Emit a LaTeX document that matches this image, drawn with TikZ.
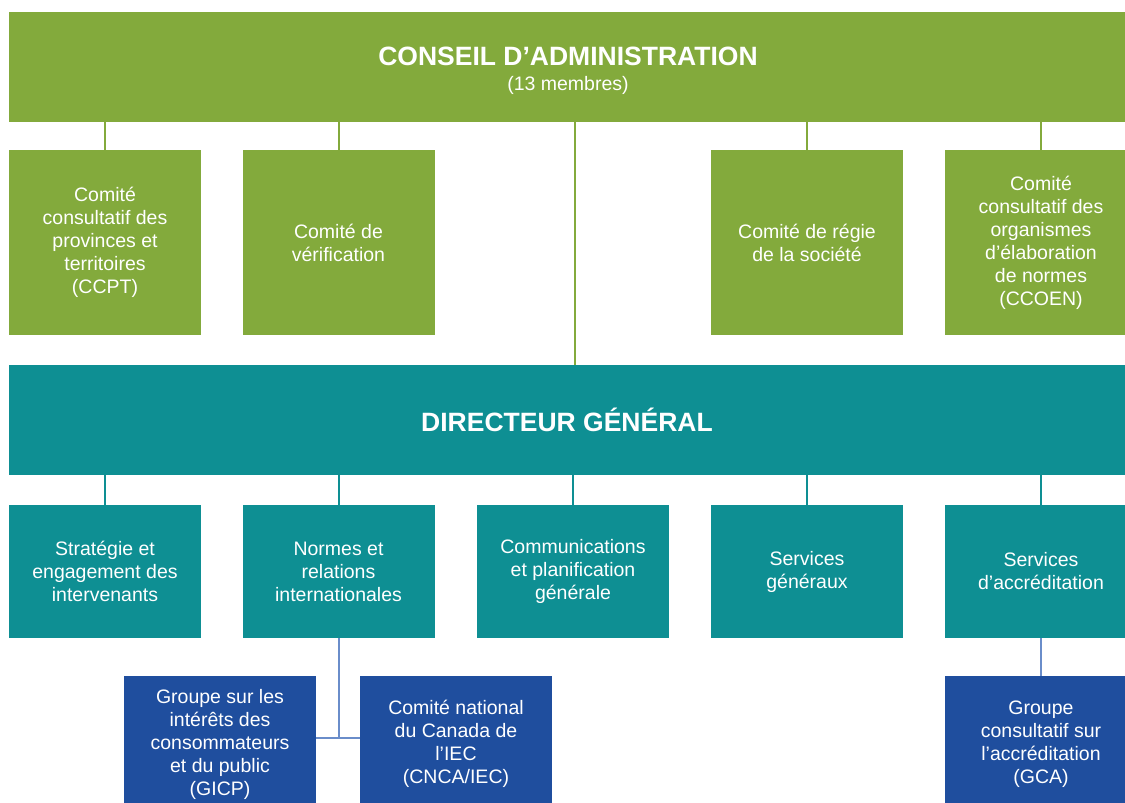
\documentclass[tikz,border=0pt]{standalone}
\usepackage{fontspec}
\setmainfont{Liberation Sans}
\usetikzlibrary{positioning}
\definecolor{cagreen}{HTML}{83AA3C}
\definecolor{dgteal}{HTML}{0E8F93}
\definecolor{grpblue}{HTML}{1F4E9E}
\definecolor{lnblue}{HTML}{6A8DCA}
\tikzset{
  box/.style={inner sep=0pt,text=white,align=center,font=\fontsize{19.5}{23}\selectfont},
  bar/.style={box,minimum width=1116pt,minimum height=110pt},
  committee/.style={box,fill=cagreen,minimum width=192pt,minimum height=185pt},
  service/.style={box,fill=dgteal,minimum width=192pt,minimum height=133pt},
  group/.style={box,fill=grpblue,minimum width=192pt,minimum height=136pt},
  gline/.style={draw=cagreen,line width=2pt},
  tline/.style={draw=dgteal,line width=2pt},
  bline/.style={draw=lnblue,line width=2pt}
}
\begin{document}
\begin{tikzpicture}[x=1pt,y=-1pt]
\useasboundingbox[fill=white] (0,0) rectangle (1125,803);
% board and its committees
\node[bar,fill=cagreen] (ca) at (567,67) {};
\node[box,font=\fontsize{19.5}{25}\selectfont] (catext) at (568,71) {{\fontsize{26.5}{25}\selectfont\bfseries CONSEIL D’ADMINISTRATION}\\(13 membres)};
\node[committee] (ccpt) at (105,242.5) {Comité\\consultatif des\\provinces et\\territoires\\(CCPT)};
\node[committee] (verif) at (338.5,242.5) {Comité de\\vérification};
\node[committee] (regie) at (807,242.5) {Comité de régie\\de la société};
\node[committee] (ccoen) at (1041,242.5) {Comité\\consultatif des\\organismes\\d’élaboration\\de normes\\(CCOEN)};
\draw[gline] (ccpt.north) -- (ccpt.north |- ca.south);
\draw[gline] (verif.north) -- (verif.north |- ca.south);
\draw[gline] (regie.north) -- (regie.north |- ca.south);
\draw[gline] (ccoen.north) -- (ccoen.north |- ca.south);
% executive and services
\node[bar,fill=dgteal,font=\fontsize{26.5}{30}\selectfont\bfseries] (dg) at (567,420) {DIRECTEUR GÉNÉRAL};
\draw[gline] ([xshift=8pt]ca.south) -- ([xshift=8pt]ca.south |- dg.north);
\node[service] (strat) at (105,571.5) {Stratégie et\\engagement des\\intervenants};
\node[service] (normes) at (338.5,571.5) {Normes et\\relations\\internationales};
\node[service] (comm) at (573,571.5) {Communications\\et planification\\générale};
\node[service] (servg) at (807,571.5) {Services\\généraux};
\node[service] (accr) at (1041,571.5) {Services\\d’accréditation};
\draw[tline] (strat.north) -- (strat.north |- dg.south);
\draw[tline] (normes.north) -- (normes.north |- dg.south);
\draw[tline] (comm.north) -- (comm.north |- dg.south);
\draw[tline] (servg.north) -- (servg.north |- dg.south);
\draw[tline] (accr.north) -- (accr.north |- dg.south);
% advisory groups
\node[group] (gicp) at (220,744) {Groupe sur les\\intérêts des\\consommateurs\\et du public\\(GICP)};
\node[group] (cnca) at (456,744) {Comité national\\du Canada de\\l’IEC\\(CNCA/IEC)};
\node[group] (gca) at (1041,744) {Groupe\\consultatif sur\\l’accréditation\\(GCA)};
\draw[bline] (normes.south) -- ([yshift=6pt]normes.south |- gicp.east);
\draw[bline] ([yshift=6pt]gicp.east) -- ([yshift=6pt]cnca.west);
\draw[bline] (accr.south) -- (gca.north);
\end{tikzpicture}
\end{document}
